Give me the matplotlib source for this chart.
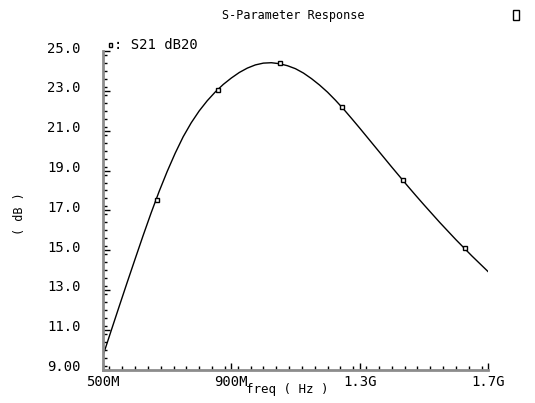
import matplotlib
matplotlib.use('Agg')
import matplotlib.pyplot as plt
import matplotlib.transforms as mtransforms
from matplotlib.patches import Rectangle
from matplotlib.ticker import MultipleLocator, FixedLocator, FixedFormatter

# curve (freq in MHz, S21 in dB)
freq = [500, 525, 550, 575, 600, 625, 650, 675, 700, 725, 750, 775, 800,
        825, 850, 875, 900, 925, 950, 975, 1000, 1025, 1050, 1075, 1100,
        1125, 1150, 1175, 1200, 1225, 1250, 1275, 1300, 1325, 1350, 1375,
        1400, 1425, 1450, 1475, 1500, 1525, 1550, 1575, 1600, 1625, 1650,
        1675, 1700]
s21 = [9.70, 10.93, 12.15, 13.36, 14.55, 15.73, 16.87, 17.95, 18.95,
       19.87, 20.70, 21.40, 22.00, 22.51, 22.95, 23.33, 23.65, 23.93,
       24.15, 24.31, 24.40, 24.42, 24.37, 24.27, 24.12, 23.90, 23.62,
       23.30, 22.94, 22.53, 22.09, 21.62, 21.14, 20.65, 20.16, 19.67,
       19.18, 18.70, 18.22, 17.75, 17.29, 16.84, 16.39, 15.96, 15.53,
       15.12, 14.71, 14.32, 13.93]

# marker positions
mark_freq = [667, 859, 1052, 1244, 1436, 1628]
mark_s21 = [17.52, 23.05, 24.39, 22.18, 18.53, 15.1]

xticks = [500, 900, 1300, 1700]
xtick_labels = ['500M', '900M', '1.3G', '1.7G']
yticks = [9, 11, 13, 15, 17, 19, 21, 23, 25]
ytick_labels = ['9.00', '11.0', '13.0', '15.0', '17.0', '19.0', '21.0', '23.0', '25.0']

font = 'DejaVu Sans Mono'
plt.rcParams['font.family'] = [font, 'DejaVu Sans']


def draw():
    fig = plt.figure(figsize=(5.35, 4.03), dpi=100)
    ax = fig.add_axes([0.1925, 0.083, 0.7195, 0.790])

    ax.plot(freq, s21, color='black', lw=1.0)
    ax.plot(mark_freq, mark_s21, ls='none', marker='s', ms=3,
            mfc='white', mec='black', mew=1.0)

    ax.set_xlim(500, 1700)
    ax.set_ylim(9, 25)

    for side in ['top', 'right']:
        ax.spines[side].set_visible(False)
    for side in ['left', 'bottom']:
        ax.spines[side].set_color('#8c8c8c')
        ax.spines[side].set_linewidth(2)

    ax.xaxis.set_major_locator(FixedLocator(xticks))
    ax.xaxis.set_major_formatter(FixedFormatter(xtick_labels))
    ax.xaxis.set_minor_locator(MultipleLocator(40))
    ax.yaxis.set_major_locator(FixedLocator(yticks))
    ax.yaxis.set_major_formatter(FixedFormatter(ytick_labels))
    ax.yaxis.set_minor_locator(MultipleLocator(0.4))

    ax.tick_params(which='major', direction='in', length=5, width=1,
                   color='black', labelsize=10)
    ax.tick_params(which='minor', direction='in', length=3, width=1,
                   color='black')
    ax.tick_params(axis='y', pad=16)
    ax.tick_params(axis='x', pad=4)

    off = mtransforms.ScaledTranslation(0, 4 / 100, fig.dpi_scale_trans)
    for lab in ax.get_yticklabels():
        lab.set_transform(lab.get_transform() + off)

    fig.text(0.548, 1 - 16 / 403, 'S-Parameter Response', ha='center',
             va='center', fontsize=8.5)
    fig.text(0.537, 1 - 390 / 403, 'freq ( Hz )', ha='center',
             va='center', fontsize=9)
    fig.text(20 / 535, 1 - 214 / 403, '( dB )', ha='center', va='center',
             rotation=90, fontsize=8.5)

    # legend entry
    fig.text(114 / 535, 1 - 45 / 403, ': S21 dB20', ha='left',
             va='center', fontsize=10)
    fig.add_artist(Rectangle((109 / 535, 1 - 47 / 403), 3 / 535, 4 / 403,
                             transform=fig.transFigure, fill=False,
                             ec='black', lw=1))
    # box icon at top right
    fig.add_artist(Rectangle((513 / 535, 1 - 20 / 403), 6 / 535, 10 / 403,
                             transform=fig.transFigure, fill=False,
                             ec='black', lw=1))

    fig.savefig('out.png', dpi=100)


if __name__ == '__main__':
    draw()
